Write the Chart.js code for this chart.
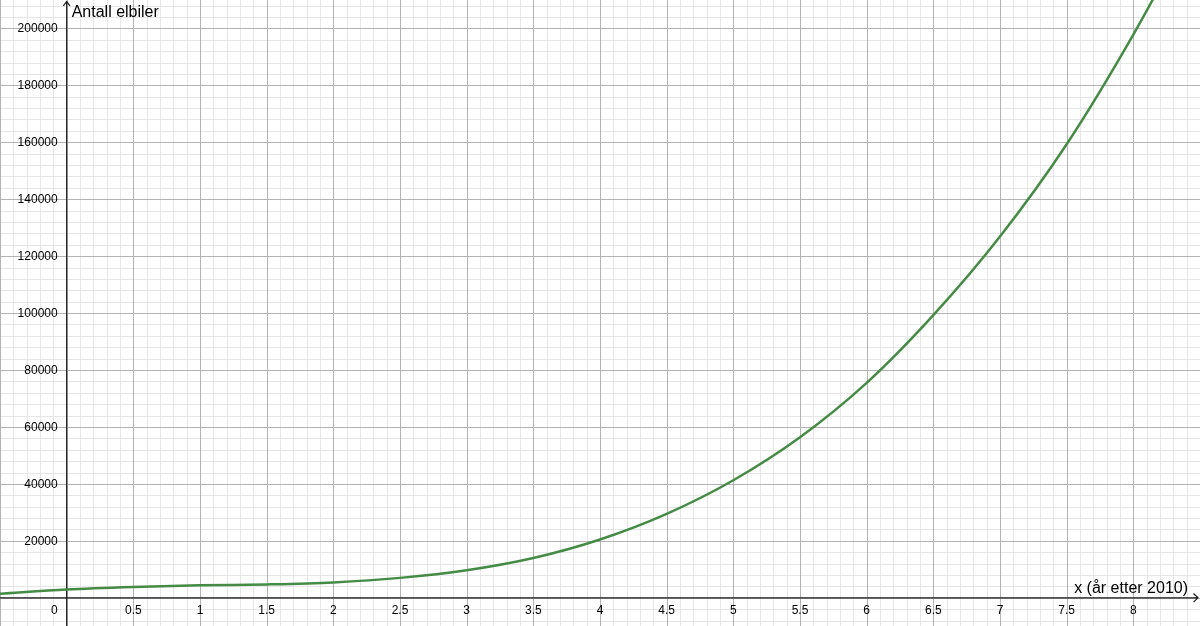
<!DOCTYPE html>
<html>
<head>
<meta charset="utf-8">
<script src="https://cdn.jsdelivr.net/npm/chart.js@4"></script>
<style>
  html, body { margin: 0; padding: 0; background: #fff; }
  #wrap { width: 1200px; height: 626px; position: relative; }
</style>
</head>
<body>
<div id="wrap"><canvas id="chart"></canvas></div>
<script>
// verdier lest av grafen
const xVals = [-0.5, 0, 0.5, 1, 1.5, 2, 2.5, 3, 3.5, 4, 4.5, 5, 5.5, 6, 6.5, 7, 7.5, 8, 8.5];
const yVals = [1400, 2900, 3800, 4400, 4700, 5400, 7000, 9700, 14000, 20500, 29500, 41300, 56400, 75500, 99300, 126900, 159300, 197800, 241000];

const xTicks = [0, 0.5, 1, 1.5, 2, 2.5, 3, 3.5, 4, 4.5, 5, 5.5, 6, 6.5, 7, 7.5, 8];
const yTicks = [20000, 40000, 60000, 80000, 100000, 120000, 140000, 160000, 180000, 200000];

const yTitle = 'Antall elbiler';
const xTitle = 'x (år etter 2010)';

const FONT = '"Liberation Sans", Arial, sans-serif';

// rutenett: tynne linjer hver 0.1 / 4000, tykkere hver 0.5 / 20000
const xMinor = 0.1, xMajor = 0.5;
const yMinor = 4000, yMajor = 20000;
const isMult = (v, step) => Math.abs(v / step - Math.round(v / step)) < 1e-6;

function gridValues(scale, step) {
    const out = [];
    const first = Math.ceil(scale.min / step);
    const last = Math.floor(scale.max / step);
    for (let i = first; i <= last; i++) out.push(i * step);
    return out;
}

// rutenett, akser med piler og tekst (GeoGebra-stil)
const axesPlugin = {
    id: 'geoAxes',
    beforeDatasetsDraw(chart) {
        const { ctx, chartArea: a, scales: { x, y } } = chart;
        const x0 = x.getPixelForValue(0);
        const y0 = y.getPixelForValue(0);
        ctx.save();
        ctx.lineWidth = 1;

        const drawGrid = (major) => {
            ctx.strokeStyle = major ? '#b3b3b3' : '#e6e6e6';
            ctx.beginPath();
            gridValues(x, xMinor).forEach(v => {
                if (isMult(v, xMajor) !== major) return;
                const px = Math.round(x.getPixelForValue(v)) + 0.5;
                ctx.moveTo(px, a.top);
                ctx.lineTo(px, a.bottom);
            });
            gridValues(y, yMinor).forEach(v => {
                if (isMult(v, yMajor) !== major) return;
                const py = Math.round(y.getPixelForValue(v)) + 0.5;
                ctx.moveTo(a.left, py);
                ctx.lineTo(a.right, py);
            });
            ctx.stroke();
        };
        drawGrid(false);
        drawGrid(true);

        ctx.strokeStyle = '#1a1a1a';
        ctx.lineWidth = 1.2;
        ctx.beginPath();
        // x-akse
        ctx.moveTo(a.left, y0);
        ctx.lineTo(a.right - 2, y0);
        ctx.moveTo(a.right - 6.5, y0 - 4.3);
        ctx.lineTo(a.right - 2, y0);
        ctx.lineTo(a.right - 6.5, y0 + 4.3);
        // y-akse
        ctx.moveTo(x0, a.bottom);
        ctx.lineTo(x0, a.top + 1.5);
        ctx.moveTo(x0 - 3.3, a.top + 5.8);
        ctx.lineTo(x0, a.top + 1.5);
        ctx.lineTo(x0 + 3.3, a.top + 5.8);
        ctx.stroke();
        ctx.restore();
    },
    afterDatasetsDraw(chart) {
        const { ctx, chartArea: a, scales: { x, y } } = chart;
        const x0 = x.getPixelForValue(0);
        const y0 = y.getPixelForValue(0);
        ctx.save();
        ctx.fillStyle = '#000';
        ctx.font = '12px ' + FONT;

        ctx.textBaseline = 'alphabetic';
        xTicks.forEach(v => {
            if (v === 0) {
                ctx.textAlign = 'right';
                ctx.fillText('0', x0 - 9, y0 + 16);
            } else {
                ctx.textAlign = 'center';
                ctx.fillText(String(v), x.getPixelForValue(v), y0 + 16);
            }
        });

        ctx.textAlign = 'right';
        ctx.textBaseline = 'middle';
        yTicks.forEach(v => {
            ctx.fillText(String(v), x0 - 9, y.getPixelForValue(v) + 0.5);
        });

        ctx.font = '16px ' + FONT;
        ctx.textBaseline = 'alphabetic';
        ctx.textAlign = 'left';
        ctx.fillText(yTitle, x0 + 5, a.top + 17);
        ctx.textAlign = 'right';
        ctx.fillText(xTitle, a.right - 12, y0 - 5);
        ctx.restore();
    }
};

new Chart(document.getElementById('chart'), {
    type: 'scatter',
    data: {
        datasets: [{
            data: xVals.map((v, i) => ({ x: v, y: yVals[i] })),
            showLine: true,
            borderColor: '#458b45',
            borderWidth: 2.5,
            pointRadius: 0,
            cubicInterpolationMode: 'monotone'
        }]
    },
    options: {
        responsive: true,
        maintainAspectRatio: false,
        animation: false,
        layout: { padding: 0, autoPadding: false },
        plugins: {
            legend: { display: false },
            tooltip: { enabled: false }
        },
        scales: {
            x: {
                type: 'linear',
                min: -0.5,
                max: 8.5,
                border: { display: false },
                grid: { display: false, drawTicks: false, tickLength: 0 },
                ticks: { display: false }
            },
            y: {
                type: 'linear',
                min: -9900,
                max: 209950,
                border: { display: false },
                grid: { display: false, drawTicks: false, tickLength: 0 },
                ticks: { display: false }
            }
        }
    },
    plugins: [axesPlugin]
});
</script>
</body>
</html>
